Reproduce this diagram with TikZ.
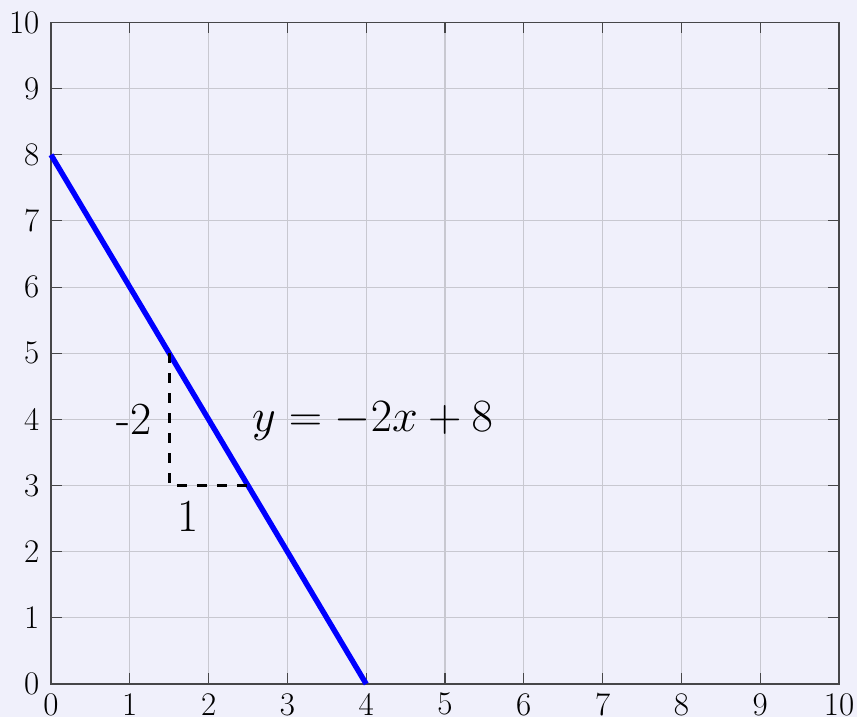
\documentclass[tikz,border=0pt]{standalone}
\usepackage{tikz}
\definecolor{bgcol}{RGB}{240,240,251}
\definecolor{gridcol}{RGB}{200,200,208}
\definecolor{framecol}{RGB}{70,70,72}
\tikzset{
  gridline/.style={draw=gridcol, line width=1.1pt},
  frameline/.style={draw=framecol, line width=1.4pt},
  tickmark/.style={draw=framecol, line width=1.1pt},
  ticklab/.style={inner sep=0pt, font=\fontsize{33}{40}\selectfont},
  graphline/.style={draw=blue, line width=5.4pt},
  slopeline/.style={draw=black, line width=2.7pt, dash pattern=on 10pt off 10pt},
  biglab/.style={inner sep=0pt, font=\fontsize{46}{55}\selectfont},
  eqlab/.style={inner sep=0pt, font=\fontsize{24.88}{30}\selectfont}
}
\begin{document}
\begin{tikzpicture}[x=78.8pt, y=66.15pt]
\useasboundingbox (-51pt,-33pt) rectangle (806pt,684pt);
\fill[bgcol] (-51pt,-33pt) rectangle (806pt,684pt);
% grid
\foreach \i in {1,...,9} {
  \draw[gridline] (\i,0) -- (\i,10);
  \draw[gridline] (0,\i) -- (10,\i);
}
% tick marks
\foreach \i in {1,...,9} {
  \draw[tickmark] (\i,0) -- ++(0,11pt);
  \draw[tickmark] (\i,10) -- ++(0,-11pt);
  \draw[tickmark] (0,\i) -- ++(11pt,0);
  \draw[tickmark] (10,\i) -- ++(-11pt,0);
}
% frame
\draw[frameline] (0,0) rectangle (10,10);
% tick labels
\foreach \i in {0,...,10} {
  \node[ticklab, anchor=north] (xl\i) at ([yshift=-9pt]\i,0) {\i};
  \node[ticklab, anchor=east] (yl\i) at ([xshift=-11.5pt]0,\i) {\i};
}
% graph
\coordinate (p0) at (0,8);
\coordinate (p1) at (4,0);
\draw[graphline] (p0) -- (p1);
% slope triangle
\coordinate (s0) at (1.5,5);
\coordinate (s1) at (1.5,3);
\coordinate (s2) at (2.5,3);
\draw[slopeline] (s0) -- (s1) -- (s2);
% labels
\node[biglab, anchor=base east] (rise) at (1.278,3.77) {-2};
\node[biglab, anchor=base] (run) at (1.733,2.30) {1};
\node[eqlab, anchor=base west] (eq) at (2.55,3.81) {\scalebox{1.86}{$y=-2x+8$}};
\end{tikzpicture}
\end{document}
